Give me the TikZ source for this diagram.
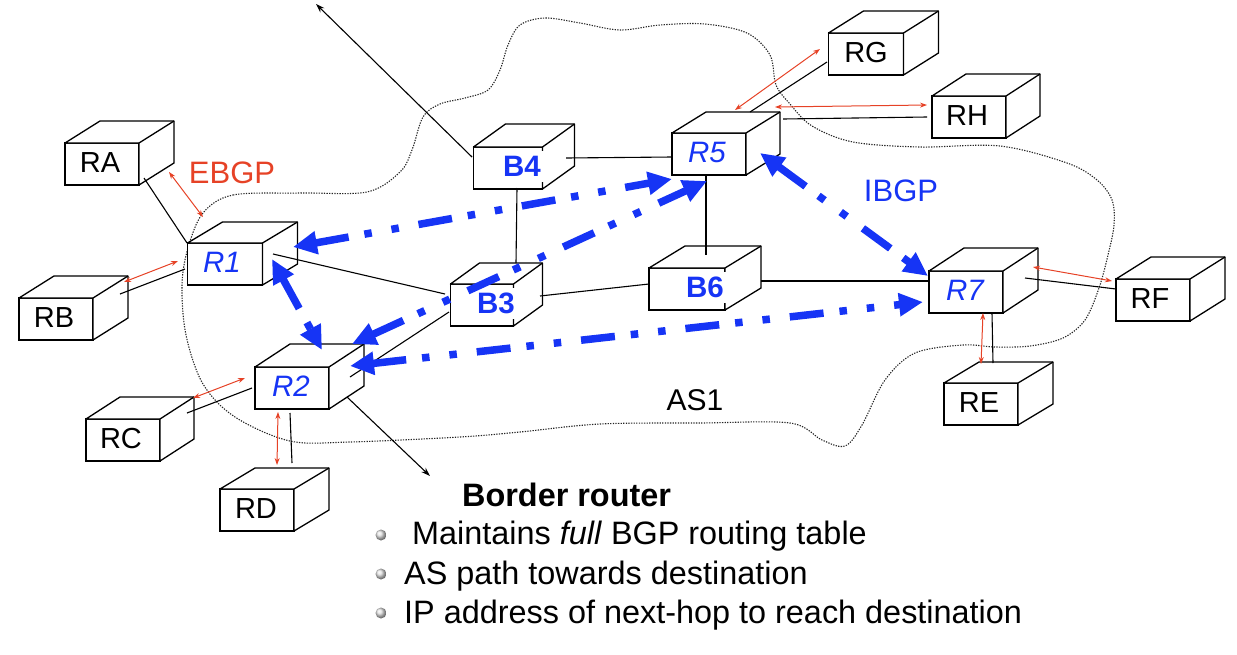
\documentclass[tikz,border=0pt]{standalone}
\usepackage{fontspec}
\setmainfont{Liberation Sans}
\usetikzlibrary{arrows.meta}
\definecolor{ibgp}{RGB}{22,52,245}
\definecolor{ebgp}{RGB}{230,66,38}
\tikzset{
  boxline/.style={line width=1.3pt, line join=round},
  frontface/.style={draw, line width=1.3pt, fill=white, minimum height=42pt, inner sep=0pt, outer sep=0pt},
  plainlbl/.style={font=\fontsize{29}{32}\selectfont, text=black, inner sep=0pt},
  routerlbl/.style={font=\fontsize{29.5}{32}\selectfont\itshape, text=ibgp, inner sep=0pt},
  borderlbl/.style={font=\fontsize{29.5}{32}\selectfont\bfseries, text=ibgp, fill=white, inner xsep=3pt, inner ysep=5pt},
  link/.style={line width=1.1pt},
  ebgparrow/.style={ebgp, line width=1pt, {Stealth[length=7pt,width=5pt]}-{Stealth[length=7pt,width=5pt]}},
  ibgparrow/.style={ibgp, line width=7.5pt, dash pattern=on 34pt off 16pt on 7.5pt off 20pt on 7.5pt off 20pt, {Triangle[length=24pt,width=22pt]}-{Triangle[length=24pt,width=22pt]}},
  pointer/.style={line width=1.1pt, -{Stealth[length=9pt,width=6pt]}},
  ascloud/.style={line width=1.1pt, dash pattern=on 1.3pt off 1.3pt, black!85},
  biglbl/.style={inner sep=0pt, font=\fontsize{31}{34}\selectfont},
  bodytext/.style={anchor=base west, inner sep=0pt, font=\fontsize{32.4}{36}\selectfont},
  bulletdot/.style={circle, minimum size=11pt, inner sep=0pt, ball color=black!12},
}
% name, centre, width, dx, dy, label style, label, label xshift
\newcommand{\cubebox}[8]{%
  \node[frontface, minimum width=#3pt] (#1) at #2 {};
  \filldraw[boxline, fill=white] (#1.north west) -- ++(#4,#5) -- ([shift={(#4,#5)}]#1.north east)
     -- ([shift={(#4,#5)}]#1.south east) -- (#1.south east) -- (#1.north east) -- cycle;
  \draw[boxline] (#1.north east) -- ++(#4,#5);
  \node[#6] (#1-t) at ([shift={(#8,-1.5)}]#1.center) {#7};
}
\begin{document}
\begin{tikzpicture}[x=1pt,y=-1pt]
\useasboundingbox (0,0) rectangle (1237,654);

% AS1 cloud
\draw[ascloud] plot[smooth cycle, tension=0.55] coordinates {
 (203,213) (233,195) (300,193) (367,192) (400,172) (412,150) (423,117) (440,104) (465,98) (488,90)
 (500,70) (508,45) (520,25) (545,18) (580,23) (620,30) (660,25) (705,24) (747,33) (770,55)
 (776,85) (790,104) (812,126) (853,142) (920,147) (1000,146) (1067,163) (1097,180) (1112,200)
 (1114,225) (1108,255) (1099,288) (1085,320) (1063,338) (1030,346) (995,347) (963,345)
 (915,353) (885,380) (862,425) (845,446) (822,440) (790,423) (700,423) (600,424) (520,432)
 (460,437) (350,442) (290,441) (235,417) (203,384) (186,335) (182,285) (188,248)
};

\cubebox{RA}{(102,164)}{74}{35}{-22}{plainlbl}{RA}{-2}
\cubebox{RB}{(56,319)}{74}{35}{-22}{plainlbl}{RB}{-2}
\cubebox{RC}{(123,440)}{74}{34}{-22}{plainlbl}{RC}{-2}
\cubebox{RD}{(257,510)}{74}{35}{-21}{plainlbl}{RD}{-1}
\cubebox{R1}{(225,264)}{75}{35}{-21}{routerlbl}{R1}{-3}
\cubebox{R2}{(292,388)}{74}{35}{-23}{routerlbl}{R2}{-1}
\cubebox{B3}{(482,305)}{63}{29}{-21}{borderlbl}{B3}{14}
\cubebox{B4}{(508,168)}{69}{32}{-23}{borderlbl}{B4}{14}
\cubebox{R5}{(709,154)}{74}{34}{-21}{routerlbl}{R5}{-2}
\cubebox{B6}{(687,289)}{76}{36}{-22}{borderlbl}{B6}{18}
\cubebox{R7}{(966,292)}{74}{35}{-23}{routerlbl}{R7}{-1}
\cubebox{RF}{(1153,300)}{74}{35}{-22}{plainlbl}{RF}{-3}
\cubebox{RE}{(981,404)}{74}{35}{-21}{plainlbl}{RE}{-2}
\cubebox{RG}{(866,54)}{75}{35}{-22}{plainlbl}{RG}{0}
\cubebox{RH}{(969,117)}{74}{34}{-22}{plainlbl}{RH}{-2}

\coordinate (toptip) at (316,4);
\coordinate (brtip) at (430,476);

% physical links
\draw[link] ([shift={(42,14)}]RA.center) -- ([shift={(-38,-21)}]R1.center);
\draw[link] ([shift={(64,-25)}]RB.center) -- ([shift={(-40,5)}]R1.center);
\draw[link] ([shift={(48,-10)}]R1.center) -- ([shift={(-37,-11)}]B3.center);
\draw[link] ([shift={(64,-27)}]RC.center) -- ([shift={(-40,0)}]R2.center);
\draw[link] ([shift={(35,-47)}]RD.center) -- ([shift={(-2,25)}]R2.center);
\draw[link] ([shift={(58,-11)}]R2.center) -- ([shift={(-33,7)}]B3.center);
\draw[link] ([shift={(9,20)}]B4.center) -- ([shift={(34,-42)}]B3.center);
\draw[link] ([shift={(58,-10)}]B4.center) -- ([shift={(-37,3)}]R5.center);
\draw[link] ([shift={(-3,22)}]R5.center) -- ([shift={(19,-34)}]B6.center);
\draw[link] ([shift={(58,-9)}]B3.center) -- ([shift={(-38,-5)}]B6.center);
\draw[link] ([shift={(74,-8)}]B6.center) -- ([shift={(-38,-11)}]R7.center);
\draw[link] ([shift={(41,-42)}]R5.center) -- ([shift={(-39,8)}]RG.center);
\draw[link] ([shift={(74,-35)}]R5.center) -- ([shift={(-42,0)}]RH.center);
\draw[link] ([shift={(59,-14)}]R7.center) -- ([shift={(-37,-11)}]RF.center);
\draw[link] ([shift={(26,21)}]R7.center) -- ([shift={(12,-41)}]RE.center);

% pointers
\draw[pointer] ([shift={(55,9)}]R2.center) -- (brtip);
\draw[pointer] ([shift={(-36,-11)}]B4.center) -- (toptip);

% EBGP sessions
\draw[ebgparrow] ([shift={(67,8)}]RA.center) -- ([shift={(-22,-47)}]R1.center);
\draw[ebgparrow] ([shift={(68,-37)}]RB.center) -- ([shift={(-47,-3)}]R1.center);
\draw[ebgparrow] ([shift={(70,-42)}]RC.center) -- ([shift={(-47,-10)}]R2.center);
\draw[ebgparrow] ([shift={(20,-45)}]RD.center) -- ([shift={(-14,24)}]R2.center);
\draw[ebgparrow] ([shift={(26,-44)}]R5.center) -- ([shift={(-46,-5)}]RG.center);
\draw[ebgparrow] ([shift={(66,-47)}]R5.center) -- ([shift={(-42,-12)}]RH.center);
\draw[ebgparrow] ([shift={(67,-25)}]R7.center) -- ([shift={(-41,-19)}]RF.center);
\draw[ebgparrow] ([shift={(17,21)}]R7.center) -- ([shift={(0,-40)}]RE.center);

% IBGP sessions
\draw[ibgparrow] ([shift={(68,-17)}]R1.center) -- ([shift={(-37,25)}]R5.center);
\draw[ibgparrow] ([shift={(60,-44)}]R2.center) -- ([shift={(-2,27)}]R5.center);
\draw[ibgparrow] ([shift={(47,-5)}]R1.center) -- ([shift={(30,-38)}]R2.center);
\draw[ibgparrow] ([shift={(51,-1)}]R5.center) -- ([shift={(-38,-16)}]R7.center);
\draw[ibgparrow] ([shift={(58,-22)}]R2.center) -- ([shift={(-43,10)}]R7.center);

% labels
\node[biglbl, text=ebgp] (ebgplbl) at (232,173) {EBGP};
\node[biglbl, text=ibgp] (ibgplbl) at (901,191) {IBGP};
\node[inner sep=0pt, font=\fontsize{30}{34}\selectfont] (as1) at (695,400) {AS1};

% text block
\node[bodytext, font=\fontsize{32.4}{36}\selectfont\bfseries] (title) at (462,506) {Border router};
\node[bulletdot] (d1) at (381,535) {};
\node[bulletdot] (d2) at (381,574) {};
\node[bulletdot] (d3) at (381,613) {};
\node[bodytext] (l1) at (412,544) {Maintains \textit{full} BGP routing table};
\node[bodytext] (l2) at (404,584) {AS path towards destination};
\node[bodytext] (l3) at (404,623) {IP address of next-hop to reach destination};
\end{tikzpicture}
\end{document}
